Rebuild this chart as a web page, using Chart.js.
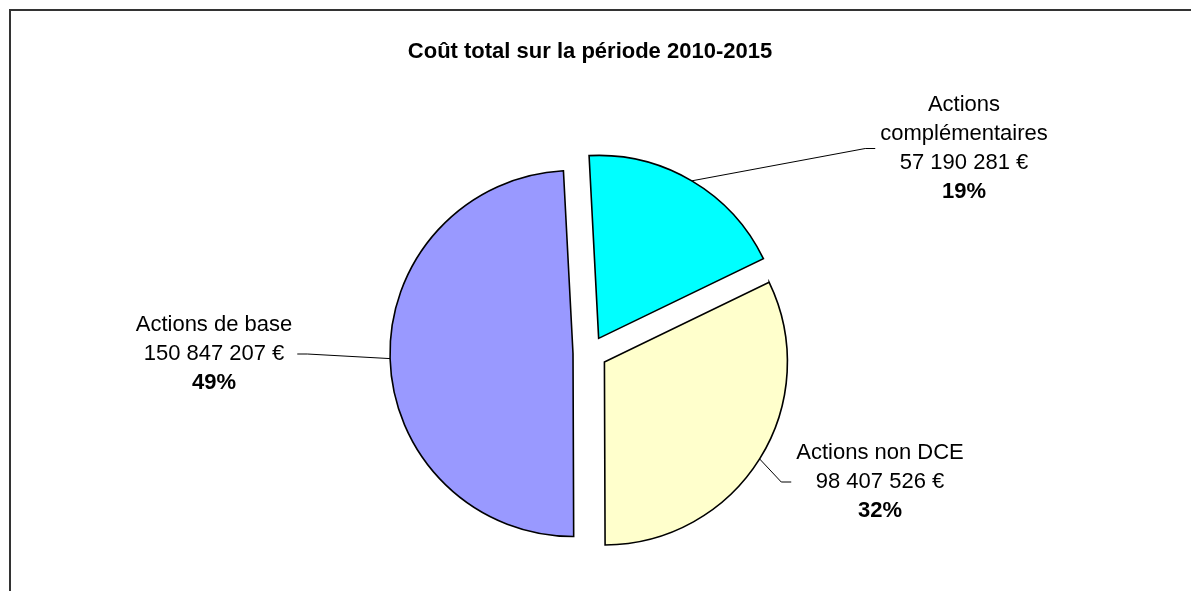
<!doctype html>
<html lang="fr">
<head>
<meta charset="utf-8">
<title>Coût total sur la période 2010-2015</title>
<style>
  body { margin: 0; background: #fff; overflow: hidden; }
  #frame { position: absolute; left: 9px; top: 9px; width: 1300px; height: 700px; border: 2px solid #333; }
  #wrap { position: absolute; left: 0; top: 0; width: 1191px; height: 591px; }
</style>
</head>
<body>
<div id="frame"></div>
<div id="wrap"><canvas id="pieChart"></canvas></div>

<script src="https://cdn.jsdelivr.net/npm/chart.js@4.4.1/dist/chart.umd.min.js"></script>
<script>
// data (first label wraps on two lines like the original)
var categories = [['Actions', 'complémentaires'], 'Actions non DCE', 'Actions de base'];
var costs = [57190281, 98407526, 150847207];

function formatEuro(v) {
  return String(v).replace(/\B(?=(\d{3})+(?!\d))/g, ' ') + ' €';
}

// pull every slice out from the centre along its middle angle
var explodePlugin = {
  id: 'explode',
  afterDatasetUpdate: function(chart, args, opts) {
    args.meta.data.forEach(function(arc) {
      var mid = (arc.startAngle + arc.endAngle) / 2;
      arc.x += Math.cos(mid) * opts.distance;
      arc.y += Math.sin(mid) * opts.distance;
    });
  }
};

// outside labels with leader lines
var labelPlugin = {
  id: 'sliceLabels',
  afterDraw: function(chart, args, opts) {
    var ctx = chart.ctx;
    var area = chart.chartArea;
    var cx = (area.left + area.right) / 2;
    var cy = (area.top + area.bottom) / 2;
    var meta = chart.getDatasetMeta(0);
    var total = costs.reduce(function(a, b) { return a + b; }, 0);
    var fontReg = opts.size + 'px "Liberation Sans", Arial, sans-serif';
    var fontBold = 'bold ' + fontReg;

    ctx.save();
    meta.data.forEach(function(arc, i) {
      var name = categories[i];
      var lines = (Array.isArray(name) ? name.slice() : [name]);
      lines.push(formatEuro(costs[i]));
      var pct = Math.round(costs[i] / total * 100) + '%';

      // widest line of the block
      ctx.font = fontReg;
      var w = 0;
      lines.forEach(function(l) { w = Math.max(w, ctx.measureText(l).width); });
      ctx.font = fontBold;
      w = Math.max(w, ctx.measureText(pct).width);

      var n = lines.length + 1;
      var bx = cx + opts.positions[i][0];
      var by = cy + opts.positions[i][1];

      // leader line
      var mid = (arc.startAngle + arc.endAngle) / 2;
      var ax = arc.x + Math.cos(mid) * arc.outerRadius;
      var ay = arc.y + Math.sin(mid) * arc.outerRadius;
      var dir = bx > cx ? -1 : 1;
      var sx = bx + dir * (w / 2 + 5);
      ctx.beginPath();
      ctx.moveTo(sx, by);
      ctx.lineTo(sx + dir * 10, by);
      ctx.lineTo(ax, ay);
      ctx.strokeStyle = '#000';
      ctx.lineWidth = 1;
      ctx.stroke();

      // text
      ctx.fillStyle = '#000';
      ctx.textAlign = 'center';
      ctx.textBaseline = 'middle';
      var y0 = by - (n - 1) / 2 * opts.lineHeight;
      ctx.font = fontReg;
      lines.forEach(function(l, k) {
        ctx.fillText(l, bx, y0 + k * opts.lineHeight);
      });
      ctx.font = fontBold;
      ctx.fillText(pct, bx, y0 + (n - 1) * opts.lineHeight);
    });
    ctx.restore();
  }
};

var ctx = document.getElementById('pieChart').getContext('2d');
var chart = new Chart(ctx, {
  type: 'pie',
  data: {
    labels: categories,
    datasets: [{
      data: costs,
      backgroundColor: ['#00ffff', '#ffffcc', '#9999ff'],
      borderColor: '#000',
      borderWidth: 1.6,
      borderJoinStyle: 'miter',
      offset: 0
    }]
  },
  options: {
    responsive: true,
    maintainAspectRatio: false,
    animation: false,
    events: [],
    rotation: -3,
    radius: 183,
    layout: {
      padding: { left: 0, right: 11, top: 0, bottom: 0 }
    },
    plugins: {
      legend: { display: false },
      tooltip: { enabled: false },
      title: {
        display: true,
        text: 'Coût total sur la période 2010-2015',
        color: '#000',
        font: { family: '"Liberation Sans", Arial, sans-serif', size: 22, weight: 'bold', lineHeight: 1.2 },
        padding: { top: 38.5, bottom: 50.1 }
      },
      explode: { distance: 17 },
      sliceLabels: {
        size: 22,
        lineHeight: 29,
        positions: [[374, -204.5], [290, 129], [-376, 1]]
      }
    }
  },
  plugins: [explodePlugin, labelPlugin]
});
</script>
</body>
</html>
